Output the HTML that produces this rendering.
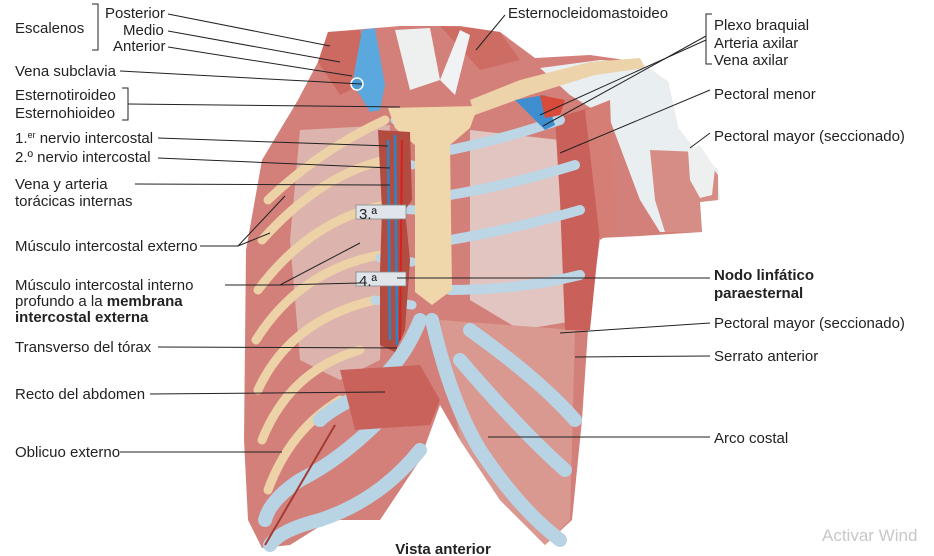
<!DOCTYPE html>
<html><head><meta charset="utf-8"><style>
html,body{margin:0;padding:0;background:#fff;}
body{width:934px;height:556px;overflow:hidden;position:relative;font-family:"Liberation Sans",sans-serif;}
svg{position:absolute;left:0;top:0;}
</style></head><body>
<svg width="934" height="556" viewBox="0 0 934 556" xmlns="http://www.w3.org/2000/svg">
<!-- body base -->
<path d="M328,32 L400,26 L460,26 L500,32 L535,58 L590,55 L640,62 L668,82 L678,128 L695,150 L718,170 L718,200 L700,202 L702,232 L640,236 L600,238 L588,330 L582,420 L572,520 L545,545 L500,500 L460,440 L440,405 L420,460 L380,520 L330,520 L290,545 L262,548 L248,520 L244,440 L246,250 L262,160 L298,100 L318,62 Z" fill="#d4807a"/>
<path d="M300,130 L390,125 L380,360 L340,380 L300,360 L290,240 Z" fill="#dcb3ad"/>
<path d="M470,130 L560,140 L580,320 L520,330 L470,300 Z" fill="#e2c4c0"/>
<path d="M440,320 L575,330 L570,520 L545,545 L500,500 L460,440 Z" fill="#d99890"/>
<path d="M540,68 L600,60 L640,62 L668,82 L678,128 L695,150 L718,170 L720,200 L700,202 L702,232 L660,232 L640,200 L610,120 L570,95 Z" fill="#e9eef1"/>
<path d="M650,150 L700,152 L718,175 L718,200 L700,202 L702,232 L665,232 L655,200 Z" fill="#d58d85"/>
<path d="M688,150 L700,145 L715,168 L712,195 L700,198 L690,180 Z" fill="#eef0f0"/>
<path d="M470,100 L520,80 L590,62 L640,58 L645,68 L595,75 L530,95 L475,115 Z" fill="#ecd3a9"/>
<path d="M555,118 L600,105 L600,230 L590,330 L565,330 L560,200 Z" fill="#c9605a"/>
<path d="M585,110 L610,100 L615,230 L600,240 Z" fill="#d57e76"/>
<g stroke="#ecd2a6" stroke-width="9" fill="none" stroke-linecap="round">
<path d="M385,120 Q320,150 268,200"/>
<path d="M385,160 Q320,175 262,240"/>
<path d="M385,205 Q310,220 258,290"/>
<path d="M380,255 Q300,270 256,340"/>
<path d="M375,300 Q290,320 258,390"/>
<path d="M360,350 Q290,370 262,440"/>
<path d="M340,400 Q290,430 268,490"/>
</g>
<g stroke="#bcd6e6" stroke-width="9" fill="none" stroke-linecap="round">
<path d="M395,120 L410,125"/><path d="M392,160 L412,165"/><path d="M385,208 L415,210"/>
<path d="M380,258 L412,262"/><path d="M375,300 L412,305"/>
</g>
<g stroke="#bcd6e6" stroke-width="10" fill="none" stroke-linecap="round">
<path d="M450,150 Q500,140 560,120"/>
<path d="M450,195 Q510,185 575,165"/>
<path d="M450,240 Q510,230 580,210"/>
<path d="M450,290 Q520,290 580,275"/>
</g>
<g stroke="#b8d3e4" stroke-width="14" fill="none" stroke-linecap="round">
<path d="M432,320 Q450,400 480,450 Q520,510 560,540"/>
<path d="M470,330 Q540,380 575,420"/>
<path d="M460,360 Q520,430 565,470"/>
<path d="M420,320 Q400,370 360,395 Q330,410 320,420"/>
<path d="M380,420 Q340,460 300,480 Q270,500 265,520"/>
<path d="M420,450 Q380,500 320,520 Q280,530 270,545"/>
</g>
<path d="M388,108 L478,106 L470,128 L450,145 L452,290 L432,305 L415,292 L415,145 L395,128 Z" fill="#efd7ab"/>
<path d="M378,130 L410,132 L412,200 L405,210 L410,260 L405,330 L395,352 L380,345 L380,270 L382,210 Z" fill="#b24b40"/>
<path d="M395,135 L397,345 M388,140 L390,340" stroke="#2a86c8" stroke-width="2.5" fill="none"/>
<path d="M402,140 L400,340" stroke="#d82020" stroke-width="2"/>
<rect x="356" y="205" width="50" height="14" fill="#dfe5ea" stroke="#888" stroke-width=".8"/>
<rect x="356" y="272" width="50" height="14" fill="#dfe5ea" stroke="#888" stroke-width=".8"/>
<path d="M340,370 L420,365 L440,400 L430,425 L355,430 Z" fill="#c9625a"/>
<path d="M318,62 L328,32 L360,30 L370,80 L340,95 Z" fill="#cc6a62"/>
<path d="M362,30 L375,28 L385,85 L380,110 L370,112 L360,95 L352,85 Z" fill="#5aa8dd"/>
<circle cx="357" cy="84" r="6" fill="#4b9ad3" stroke="#fff" stroke-width="1.5"/>
<path d="M440,26 L470,28 L500,32 L520,60 L480,70 Z" fill="#cd6c63"/>
<path d="M395,30 L430,28 L440,80 L410,90 Z" fill="#eef0f0"/>
<path d="M440,80 L460,30 L470,35 L455,95 Z" fill="#f0f2f3"/>
<path d="M515,100 L545,95 L555,125 L545,130 Z" fill="#3f8fd0"/>
<path d="M540,95 L565,100 L560,115 L545,118 Z" fill="#d84a3a"/>
<path d="M335,425 L265,545" stroke="#a33a33" stroke-width="2" fill="none"/>

<g stroke="#222" stroke-width="1" fill="none">
<path d="M92,4 L98,4 L98,50 L92,50"/>
<path d="M168,14 L330,46"/><path d="M168,31 L340,62"/><path d="M168,47 L352,76"/>
<path d="M120,71 L362,84"/>
<path d="M122,88 L128,88 L128,120 L122,120"/><path d="M128,104 L400,107"/>
<path d="M158,138 L388,146"/><path d="M158,158 L390,168"/>
<path d="M135,184 L390,185"/>
<path d="M200,246 L238,246 L285,196"/><path d="M238,246 L270,233"/>
<path d="M225,285 L280,285 L360,243"/><path d="M280,285 L360,283"/>
<path d="M158,347 L397,348"/>
<path d="M150,394 L385,392"/>
<path d="M120,452 L282,452"/>
<path d="M505,15 L476,50"/>
<path d="M712,14 L706,14 L706,64 L712,64"/>
<path d="M706,36 L543,126"/><path d="M706,40 L540,115"/>
<path d="M710,90 L560,153"/>
<path d="M710,133 L690,148"/>
<path d="M710,278 L397,278"/>
<path d="M710,323 L560,333"/>
<path d="M710,356 L575,357"/>
<path d="M710,437 L488,437"/>
</g>
<g font-family="Liberation Sans, sans-serif" font-size="15" fill="#222">
<text x="15" y="33">Escalenos</text>
<text x="105" y="18">Posterior</text>
<text x="123" y="35">Medio</text>
<text x="113" y="51">Anterior</text>
<text x="15" y="76">Vena subclavia</text>
<text x="15" y="100">Esternotiroideo</text>
<text x="15" y="118">Esternohioideo</text>
<text x="15" y="143">1.<tspan font-size="9" dy="-5">er</tspan><tspan dy="5"> nervio intercostal</tspan></text>
<text x="15" y="162">2.º nervio intercostal</text>
<text x="15" y="189">Vena y arteria</text>
<text x="15" y="206">torácicas internas</text>
<text x="15" y="251">Músculo intercostal externo</text>
<text x="15" y="290">Músculo intercostal interno</text>
<text x="15" y="306">profundo a la <tspan font-weight="bold">membrana</tspan></text>
<text x="15" y="322" font-weight="bold">intercostal externa</text>
<text x="15" y="352">Transverso del tórax</text>
<text x="15" y="399">Recto del abdomen</text>
<text x="15" y="457">Oblicuo externo</text>
<text x="508" y="18">Esternocleidomastoideo</text>
<text x="714" y="30">Plexo braquial</text>
<text x="714" y="48">Arteria axilar</text>
<text x="714" y="65">Vena axilar</text>
<text x="714" y="99">Pectoral menor</text>
<text x="714" y="141">Pectoral mayor (seccionado)</text>
<text x="714" y="280" font-weight="bold">Nodo linfático</text>
<text x="714" y="298" font-weight="bold">paraesternal</text>
<text x="714" y="328">Pectoral mayor (seccionado)</text>
<text x="714" y="361">Serrato anterior</text>
<text x="714" y="443">Arco costal</text>
<text x="359" y="219">3.ª</text>
<text x="359" y="286">4.ª</text>
<text x="443" y="554" text-anchor="middle" font-weight="bold">Vista anterior</text>
</g>
<text x="822" y="541" font-family="Liberation Sans, sans-serif" font-size="17" fill="#c8c8c8">Activar Wind</text>
</svg>
</body></html>
